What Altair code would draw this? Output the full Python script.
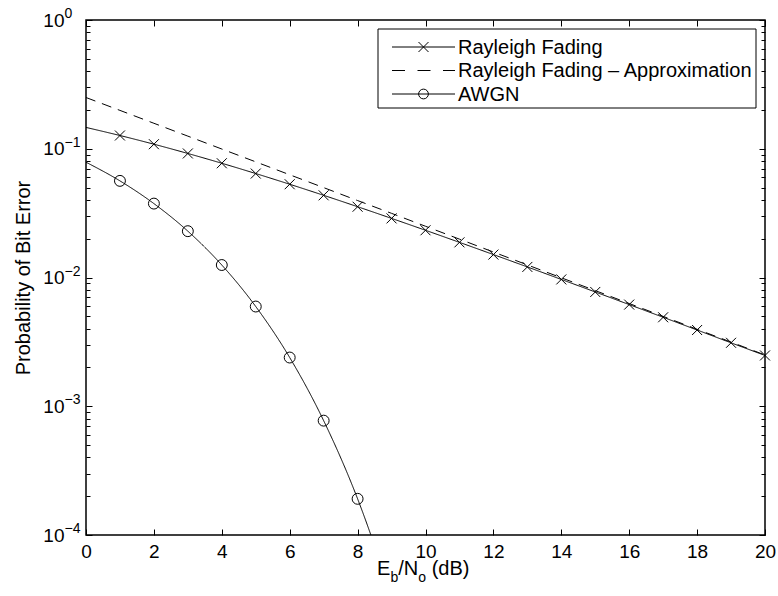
import altair as alt
import pandas as pd

FONT = "Liberation Sans"

# ---- data ----
ebno_db = list(range(0, 21))
rayleigh = [0.14645, 0.12673, 0.10848, 0.09191, 0.07714, 0.06418, 0.05300,
            0.04348, 0.03546, 0.02878, 0.02327, 0.01875, 0.01507, 0.01208,
            0.00966, 0.00772, 0.00616, 0.00491, 0.00391, 0.00311, 0.00248]
approx = [0.25, 0.1986, 0.1577, 0.1253, 0.0995, 0.0791, 0.0628, 0.0499,
          0.0396, 0.0315, 0.025, 0.01986, 0.01577, 0.01253, 0.00995,
          0.00791, 0.00628, 0.00499, 0.00396, 0.00315, 0.0025]
awgn_db = list(range(0, 10))
awgn = [0.0786, 0.0563, 0.0375, 0.0229, 0.0125, 0.00595, 0.00239,
        0.000773, 0.000191, 0.0000336]

series_names = ["Rayleigh Fading", "Rayleigh Fading \u2013 Approximation", "AWGN"]

x_ticks = [0, 2, 4, 6, 8, 10, 12, 14, 16, 18, 20]
y_major = [0.0001, 0.001, 0.01, 0.1, 1]
y_exponents = ["\u22124", "\u22123", "\u22122", "\u22121", "0"]
y_all = [0.0001, 0.0002, 0.0003, 0.0004, 0.0005, 0.0006, 0.0007, 0.0008, 0.0009,
         0.001, 0.002, 0.003, 0.004, 0.005, 0.006, 0.007, 0.008, 0.009,
         0.01, 0.02, 0.03, 0.04, 0.05, 0.06, 0.07, 0.08, 0.09,
         0.1, 0.2, 0.3, 0.4, 0.5, 0.6, 0.7, 0.8, 0.9, 1]

# ---- tables ----
lines_df = pd.concat([
    pd.DataFrame({"series": series_names[0], "x": ebno_db, "y": rayleigh}),
    pd.DataFrame({"series": series_names[1], "x": ebno_db, "y": approx}),
    pd.DataFrame({"series": series_names[2], "x": awgn_db, "y": awgn}),
], ignore_index=True)

xmark_df = pd.DataFrame({"x": ebno_db[1:], "y": rayleigh[1:]})
circ_df = pd.DataFrame({"x": awgn_db[1:9], "y": awgn[1:9]})
exp_df = pd.DataFrame({"v": y_major, "e": y_exponents})
one = pd.DataFrame({"k": [0]})

W, H = 679, 515
xscale = alt.Scale(domain=[0, 20], nice=False, zero=False)
yscale = alt.Scale(type="log", domain=[0.0001, 1], nice=False)

tick_test = "abs(log(datum.value)/LN10 - round(log(datum.value)/LN10)) < 0.01"
ytick_size = {"condition": {"test": tick_test, "value": 6}, "value": 4}

X_MARKER = "M-1,-1L1,1M-1,1L1,-1"

# ---- layer 1: lines + labelled axes ----
lines = alt.Chart(lines_df).mark_line(clip=True, color="black", strokeWidth=1,
                                      interpolate="monotone").encode(
    x=alt.X("x:Q", scale=xscale,
            axis=alt.Axis(orient="bottom", values=x_ticks, ticks=False, domain=False,
                          grid=False, labelPadding=7, labelFlush=False, title=None,
                          labelOverlap=False)),
    y=alt.Y("y:Q", scale=yscale,
            axis=alt.Axis(orient="left", values=y_major, labelExpr="'10'", ticks=False,
                          domain=False, grid=False, labelPadding=22, labelFlush=False,
                          labelOverlap=False, labelBaseline="middle",
                          title="Probability of Bit Error", titleX=-57, titleY=H / 2,
                          titleAngle=270, titleBaseline="alphabetic", titleAlign="center",
                          titleFontWeight="normal", titleFontSize=20, titleFont=FONT,
                          titleColor="black")),
    detail="series:N",
    strokeDash=alt.StrokeDash("series:N",
                              scale=alt.Scale(domain=series_names, range=[[1, 0], [10, 7], [1, 0]]),
                              legend=None),
)

# ---- exponents of the y tick labels (placed by the y scale) ----
exps = alt.Chart(exp_df).mark_text(align="left", baseline="alphabetic", font=FONT,
                                   fontSize=14, color="black", dy=-2).encode(
    x=alt.value(-21.5),
    y=alt.Y("v:Q", scale=yscale, axis=None),
    text="e:N",
)

# ---- layer 2: x markers + inward ticks (bottom edge and left edge) ----
xmarks = alt.Chart(xmark_df).mark_point(shape=X_MARKER, filled=False,
                                        color="black", size=100, opacity=1,
                                        strokeWidth=1).encode(
    x=alt.X("x:Q", scale=xscale,
            axis=alt.Axis(orient="top", offset=-H, values=x_ticks, ticks=True, tickSize=6,
                          labels=False, domain=False, grid=False, title=None)),
    y=alt.Y("y:Q", scale=yscale,
            axis=alt.Axis(orient="right", offset=-W, values=y_all, ticks=True,
                          tickSize=ytick_size, labels=False, domain=False, grid=False,
                          title=None)),
)

# ---- layer 3: circle markers + inward ticks (top edge and right edge) ----
circles = alt.Chart(circ_df).mark_point(shape="circle", filled=False, color="black",
                                        size=119, opacity=1, strokeWidth=1).encode(
    x=alt.X("x:Q", scale=xscale,
            axis=alt.Axis(orient="bottom", offset=-H, values=x_ticks, ticks=True, tickSize=6,
                          labels=False, domain=False, grid=False, title=None)),
    y=alt.Y("y:Q", scale=yscale,
            axis=alt.Axis(orient="left", offset=-W, values=y_all, ticks=True,
                          tickSize=ytick_size, labels=False, domain=False, grid=False,
                          title=None)),
)

# ---- legend box (drawn in the plot's pixel space) ----
legend_layers = [
    alt.Chart(one).mark_rect(fill="white", stroke="black", strokeWidth=1).encode(
        x=alt.value(292), x2=alt.value(670), y=alt.value(9), y2=alt.value(88))
]
legend_rows = [
    (series_names[0], 27, [1, 0], X_MARKER, 100),
    (series_names[1], 50.5, [13, 12.5], None, 0),
    (series_names[2], 74, [1, 0], "circle", 95),
]
for name, ry, dash, marker, msize in legend_rows:
    legend_layers.append(
        alt.Chart(one).mark_rule(color="black", strokeWidth=1, strokeDash=dash).encode(
            x=alt.value(306), x2=alt.value(369), y=alt.value(ry)))
    if marker:
        legend_layers.append(
            alt.Chart(one).mark_point(shape=marker, filled=False, color="black", size=msize,
                                      opacity=1, strokeWidth=1).encode(
                x=alt.value(337.5), y=alt.value(ry)))
    legend_layers.append(
        alt.Chart(one).mark_text(text=name, align="left", baseline="middle", font=FONT,
                                 fontSize=20, color="black").encode(
            x=alt.value(372), y=alt.value(ry + 0.5)))

# ---- x-axis title with subscripts ----
title_parts = [("E", 291, 554.5, 20), ("b", 304.5, 561.5, 14), ("/N", 312.3, 554.5, 20),
               ("o", 332.3, 561.5, 14), ("(dB)", 345.7, 554.5, 20)]
title_layers = [
    alt.Chart(one).mark_text(text=t, align="left", baseline="alphabetic", font=FONT,
                             fontSize=fs, color="black").encode(x=alt.value(px), y=alt.value(py))
    for (t, px, py, fs) in title_parts
]

chart = alt.layer(lines, xmarks, circles, exps, *legend_layers, *title_layers).properties(
    width=W, height=H,
    padding={"left": 86, "top": 20, "right": 13, "bottom": 61},
    autosize=alt.AutoSizeParams(type="none"),
    background="white",
).resolve_axis(x="independent", y="independent").configure_view(
    stroke="black", strokeWidth=1.5
).configure_axis(
    labelFont=FONT, labelFontSize=19, labelColor="black", tickColor="black", tickWidth=1,
)

chart.save("out.html", embed_options={"renderer": "svg", "actions": False})
